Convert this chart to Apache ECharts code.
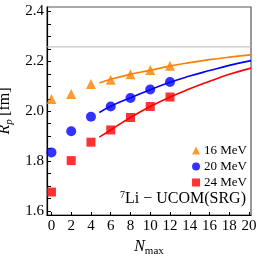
<!DOCTYPE html>
<html><head><meta charset="utf-8">
<script src="https://cdn.jsdelivr.net/npm/echarts@6/dist/echarts.min.js"></script>
<style>html,body{margin:0;padding:0;background:#fff}#c{width:258px;height:258px}</style>
</head><body><div id="c"></div>
<script>
const nmax = [0, 2, 4, 6, 8, 10, 12];
const r16 = [2.049, 2.069, 2.109, 2.126, 2.148, 2.165, 2.182];
const r20 = [1.835, 1.920, 1.978, 2.019, 2.053, 2.087, 2.117];
const r24 = [1.676, 1.802, 1.876, 1.925, 1.975, 2.019, 2.057];
const fitN = [4.85, 6, 8, 10, 12, 14, 16, 18, 20.2];
const fit16 = [2.113, 2.128, 2.148, 2.164, 2.181, 2.195, 2.207, 2.217, 2.226];
const fit20 = [1.995, 2.020, 2.054, 2.086, 2.116, 2.141, 2.163, 2.184, 2.203];
const fit24 = [1.896, 1.925, 1.975, 2.019, 2.057, 2.090, 2.120, 2.148, 2.173];
const refLine = 2.258;
const xTicks = [0, 2, 4, 6, 8, 10, 12, 14, 16, 18, 20];
const yTicks = [1.6, 1.8, 2.0, 2.2, 2.4];
const yTickMarks = [1.6, 1.65, 1.7, 1.75, 1.8, 1.85, 1.9, 1.95, 2.0, 2.05, 2.1, 2.15, 2.2, 2.25, 2.3, 2.35, 2.4];
const names = ['16 MeV', '20 MeV', '24 MeV'];
const colors = ['#FF8000', '#0000FF', '#FF0000'];

const zip = (a, b) => a.map((v, i) => [v, b[i]]);
const FONT = 'Liberation Serif';
const X0 = -0.45, X1 = 20.2, Y0 = 1.584, Y1 = 2.418;

const chart = echarts.init(document.getElementById('c'), null, {renderer: 'canvas'});
chart.setOption({
  animation: false,
  grid: {left: 47, top: 7, right: 7, bottom: 43, containLabel: false, outerBoundsMode: 'none',
         show: true, borderColor: '#555', borderWidth: 1.2},
  xAxis: {
    type: 'value', min: X0, max: X1, position: 'bottom',
    axisLine: {show: true, onZero: false, lineStyle: {color: '#000', width: 1.2}},
    axisTick: {show: true, inside: true, length: 3, customValues: xTicks, lineStyle: {color: '#000'}},
    axisLabel: {customValues: xTicks, color: '#000', fontFamily: FONT, fontSize: 15, margin: 4},
    splitLine: {show: false},
    name: '{n|N}{s|max}', nameLocation: 'middle', nameGap: 22,
    nameTextStyle: {rich: {n: {fontFamily: FONT, fontStyle: 'italic', fontSize: 16, color: '#000'},
                           s: {fontFamily: FONT, fontSize: 11, color: '#000', verticalAlign: 'bottom', padding: [8, 0, 0, 0]}}}
  },
  yAxis: {
    type: 'value', min: Y0, max: Y1, position: 'left',
    axisLine: {show: true, onZero: false, lineStyle: {color: '#000', width: 1.2}},
    axisTick: {show: true, inside: true, length: 4, customValues: yTickMarks, lineStyle: {color: '#000'}},
    axisLabel: {customValues: yTicks, formatter: v => v.toFixed(1), color: '#000', fontFamily: FONT, fontSize: 15, margin: 3},
    splitLine: {show: false},
    name: '{r|R}{s|p} {b|[fm]}', nameLocation: 'middle', nameGap: 27, nameRotate: 90,
    nameTextStyle: {rich: {r: {fontFamily: FONT, fontStyle: 'italic', fontSize: 16, color: '#000'},
                           s: {fontFamily: FONT, fontStyle: 'italic', fontSize: 11, color: '#000', verticalAlign: 'bottom', padding: [8, 0, 0, 0]},
                           b: {fontFamily: FONT, fontSize: 16, color: '#000'}}}
  },
  legend: {
    data: names.map((n, i) => ({name: n, icon: ['triangle', 'circle', 'rect'][i]})),
    orient: 'vertical', right: 11, top: 144, padding: 0, itemWidth: 8, itemHeight: 8, itemGap: 3,
    textStyle: {fontFamily: FONT, fontSize: 13, lineHeight: 12, color: '#000', padding: [0, 0, 0, -1]}
  },
  graphic: [{
    type: 'text', right: 12, top: 190,
    style: {
      text: '{sup|7}{t|Li − UCOM(SRG)}',
      rich: {sup: {fontFamily: FONT, fontSize: 10, verticalAlign: 'top', padding: [0, 0, 8, 0], fill: '#000'},
             t: {fontFamily: FONT, fontSize: 16, fill: '#000'}}
    }
  }],
  series: [
    {type: 'line', data: [[X0, refLine], [X1, refLine]], showSymbol: false, silent: true,
     lineStyle: {color: '#b8b8b8', width: 1}, z: 1},
    {type: 'line', data: zip(fitN, fit16), smooth: true, showSymbol: false, lineStyle: {color: colors[0], width: 1.6}},
    {type: 'line', data: zip(fitN, fit20), smooth: true, showSymbol: false, lineStyle: {color: colors[1], width: 1.6}},
    {type: 'line', data: zip(fitN, fit24), smooth: true, showSymbol: false, lineStyle: {color: colors[2], width: 1.6}},
    {name: names[0], type: 'scatter', data: zip(nmax, r16), symbol: 'triangle', symbolSize: 10, itemStyle: {color: colors[0]}, z: 3},
    {name: names[1], type: 'scatter', data: zip(nmax, r20), symbol: 'circle', symbolSize: 10, itemStyle: {color: colors[1]}, z: 3},
    {name: names[2], type: 'scatter', data: zip(nmax, r24), symbol: 'rect', symbolSize: 9, itemStyle: {color: colors[2]}, z: 3}
  ]
});
</script></body></html>
